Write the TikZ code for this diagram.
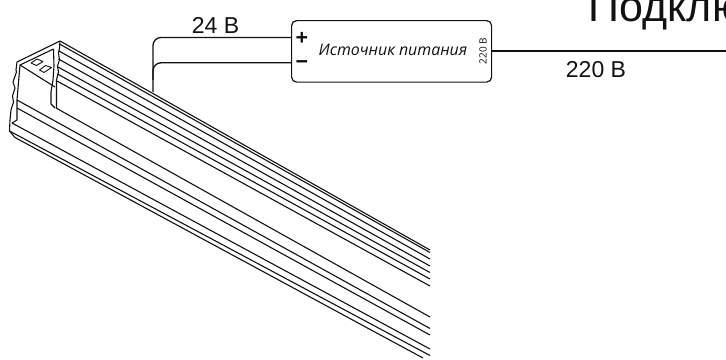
\documentclass[tikz,border=0pt]{standalone}
\usepackage{fontspec}
\setmainfont{Liberation Sans}
\newfontfamily\boxfont{Open Sans}
\definecolor{ink}{HTML}{111111}
\tikzset{
  prof/.style={draw=ink,line width=1.1bp,line join=round},
  wire/.style={draw=ink,line width=1.3bp},
  lbl/.style={text=ink,font=\fontsize{23bp}{23bp}\selectfont,inner sep=0pt,anchor=base},
}
\begin{document}
\begin{tikzpicture}[x=1bp,y=-1bp]
\useasboundingbox (0,0) rectangle (726,359);
\clip (0,0) rectangle (726,359);
% profile: long lines
\foreach \a/\b/\c/\d in {
 60/41/430/250, 59.5/44/430/252.5, 59/51/430/259, 58.5/59/430/266,
 58/67/430/272.5, 57.5/74/430/279, 57/81/430/286,
 56/108/430/317, 17/100/430/328.5, 17/108/430/335,
 12/123/430/349, 9.5/131/430/355.5, 15/137.5/423/358}{
  \draw[prof] (\a,\b) -- (\c,\d);
}
% end cap outline
\draw[prof] (60,41) -- (17,62) -- (16,70) -- (16.5,72) -- (13,82) -- (15,88) -- (12.5,96) -- (13.5,102) -- (11,110) -- (10,120) -- (9.5,131) -- (15,137.5);
\draw[prof] (60,41) -- (59.5,48) -- (58.5,53) -- (59.5,60) -- (57.5,66) -- (58.5,72) -- (56.5,80) -- (56.5,108);
\draw[prof] (53.5,49) -- (20,65) -- (17,100) -- (17,120) -- (12,123);
\draw[prof] (20,65) -- (55,87);
\draw[prof] (53.5,49) -- (54,66) -- (53,80) -- (51,92) -- (51,104) -- (55,108);
% slots
\draw[prof,line width=0.9bp] (31,63) -- (37,59) -- (43,61.5) -- (36.5,65.5) -- cycle;
\draw[prof,line width=0.9bp] (39.5,70) -- (45.5,65.5) -- (51.5,67.5) -- (44,72.5) -- cycle;
% power supply
\node[draw=ink,line width=1.2bp,rounded corners=5bp,minimum width=200bp,minimum height=61.5bp,inner sep=0pt,anchor=north west] (psu) at (291,20) {};
\node[inner sep=0pt,text=ink,font=\boxfont\itshape\fontsize{15.9bp}{16bp}\selectfont] (name) at (393,50) {Источник питания};
\node[inner sep=0pt,text=ink,font=\boxfont\fontsize{10bp}{10bp}\selectfont,rotate=90] (v220) at (483,51) {220 В};
\node[inner sep=0pt,text=ink,font=\boxfont\bfseries\fontsize{22bp}{22bp}\selectfont] (plus) at (302,39) {+};
\node[inner sep=0pt,text=ink,font=\boxfont\bfseries\fontsize{22bp}{22bp}\selectfont] (minus) at (302,65) {−};
% wires
\coordinate (drop1) at (153,92);
\coordinate (drop2) at (153,80);
\coordinate (mainsend) at (726,51);
\draw[wire,rounded corners=8bp] (psu.west |- 0,37.5) -| (drop1);
\draw[wire,rounded corners=8bp] (psu.west |- 0,62.8) -| (drop2);
\draw[wire] (psu.east |- mainsend) -- (mainsend);
% labels
\node[lbl] (l24) at (215.5,33) {24 В};
\node[lbl] (l220) at (596,77) {220 В};
\node[text=ink,font=\fontsize{43bp}{43bp}\selectfont,inner sep=0pt,anchor=base west] (title) at (588.5,21.7) {Подклю};
\end{tikzpicture}
\end{document}
